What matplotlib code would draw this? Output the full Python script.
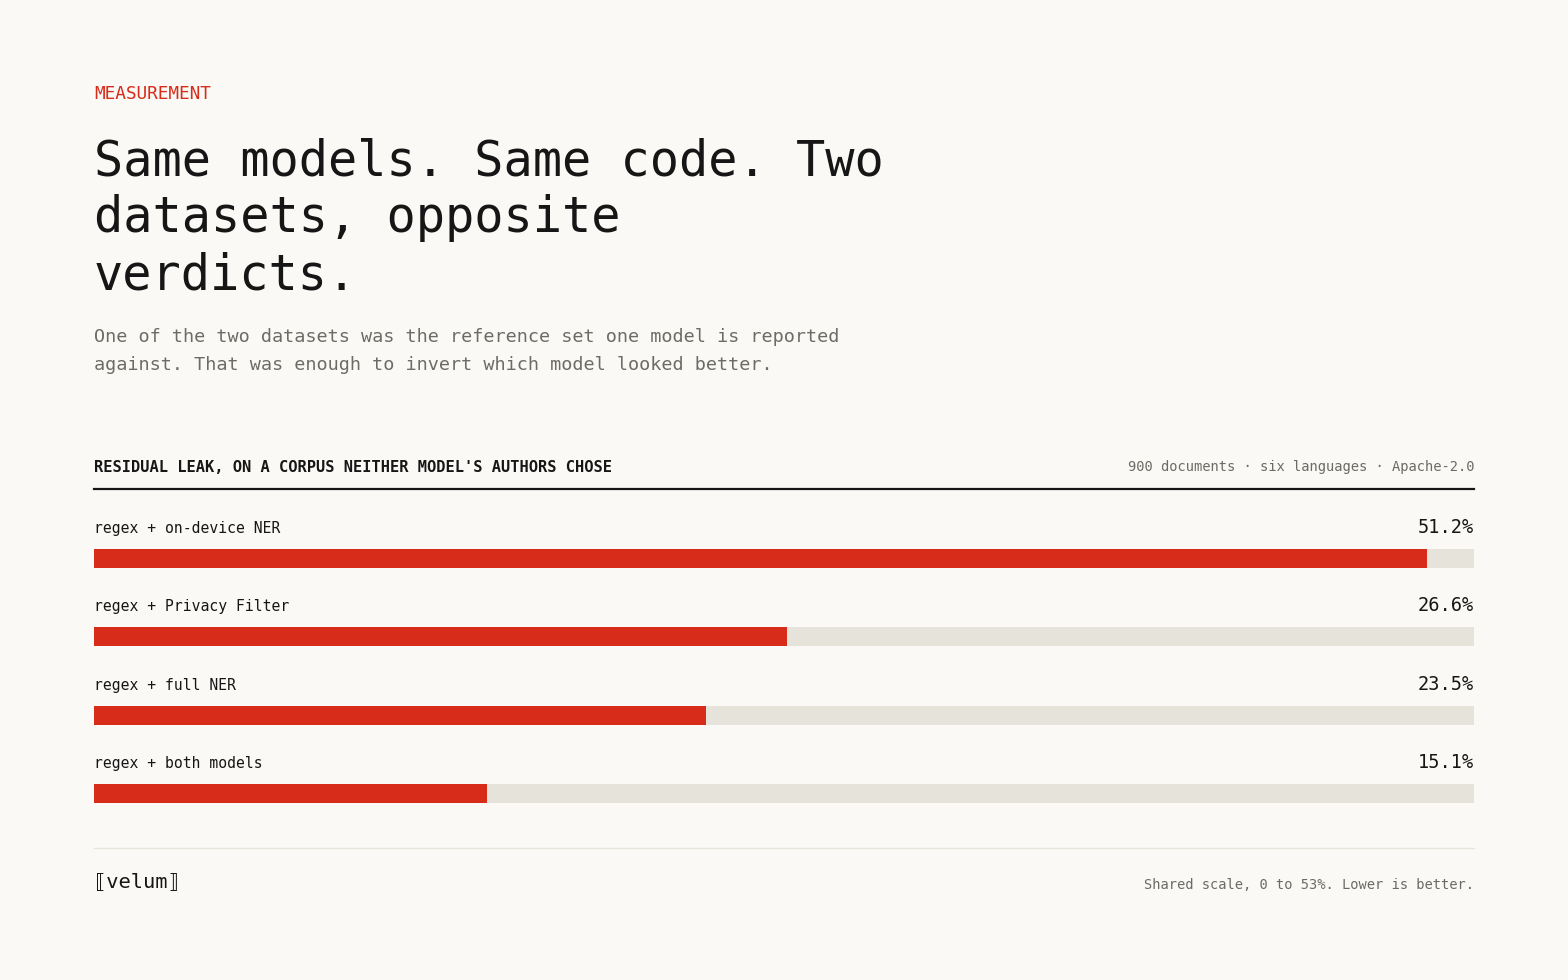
import matplotlib
matplotlib.use("Agg")
import matplotlib.pyplot as plt
from matplotlib.lines import Line2D

plt.rcParams["font.family"] = ["DejaVu Sans Mono", "DejaVu Sans"]

# data
labels = [
    "regex + on-device NER",
    "regex + Privacy Filter",
    "regex + full NER",
    "regex + both models",
]
leak_pct = [51.2, 26.6, 23.5, 15.1]
scale_max = 53

BG = "#faf9f5"
RED = "#d72c1a"
TRACK = "#e6e3da"
INK = "#161616"
GREY = "#6c6b66"

W, H = 1568, 980
fig = plt.figure(figsize=(W / 100, H / 100), dpi=100, facecolor=BG)


def fy(px):
    return 1 - px / H


def fx(px):
    return px / W


# header block
fig.text(fx(94), fy(94), "MEASUREMENT", color=RED, fontsize=12.8,
         va="center", ha="left")
title_lines = ["Same models. Same code. Two", "datasets, opposite", "verdicts."]
for line, base in zip(title_lines, [176, 232, 289]):
    fig.text(fx(94), fy(base), line, color=INK, fontsize=35,
             va="baseline", ha="left")
sub_lines = [
    "One of the two datasets was the reference set one model is reported",
    "against. That was enough to invert which model looked better.",
]
for line, c in zip(sub_lines, [337, 365]):
    fig.text(fx(94), fy(c), line, color=GREY, fontsize=13.3,
             va="center", ha="left")

# chart header
fig.text(fx(94), fy(467), "RESIDUAL LEAK, ON A CORPUS NEITHER MODEL'S AUTHORS CHOSE",
         color=INK, fontsize=11.1, va="center", ha="left", fontweight="bold")
fig.text(fx(1474), fy(467), "900 documents · six languages · Apache-2.0",
         color=GREY, fontsize=9.9, va="center", ha="right")
fig.add_artist(Line2D([fx(94), fx(1474)], [fy(488.5), fy(488.5)],
                      color=INK, linewidth=1.6))

# bars
ax_top, ax_bot = 480, 832
row_px = 78.5
ax = fig.add_axes([fx(94), fy(ax_bot), fx(1474) - fx(94), (ax_bot - ax_top) / H])
ax.set_facecolor("none")
ypos = list(range(len(labels)))
bar_h = 19 / row_px
ax.barh(ypos, [scale_max] * len(labels), height=bar_h, color=TRACK, linewidth=0)
ax.barh(ypos, leak_pct, height=bar_h, color=RED, linewidth=0)
ax.set_xlim(0, scale_max)
ax.set_ylim(3 + (ax_bot - 794) / row_px, -(558 - ax_top) / row_px)
for y, lab, v in zip(ypos, labels, leak_pct):
    ax.text(0, y - 30 / row_px, lab, color=INK, fontsize=10.6,
            va="center", ha="left", clip_on=False)
    ax.text(scale_max, y - 31 / row_px, f"{v:.1f}%", color=INK, fontsize=13.4,
            va="center", ha="right", clip_on=False)
ax.axis("off")

# footer
fig.add_artist(Line2D([fx(94), fx(1474)], [fy(847.5), fy(847.5)],
                      color="#e8e5dd", linewidth=1))
fig.text(fx(94), fy(882), "⟦velum⟧", color=INK, fontsize=14.7,
         va="center", ha="left")
fig.text(fx(1474), fy(885), "Shared scale, 0 to 53%. Lower is better.",
         color=GREY, fontsize=9.9, va="center", ha="right")

fig.savefig("out.png", dpi=100, facecolor=BG)
